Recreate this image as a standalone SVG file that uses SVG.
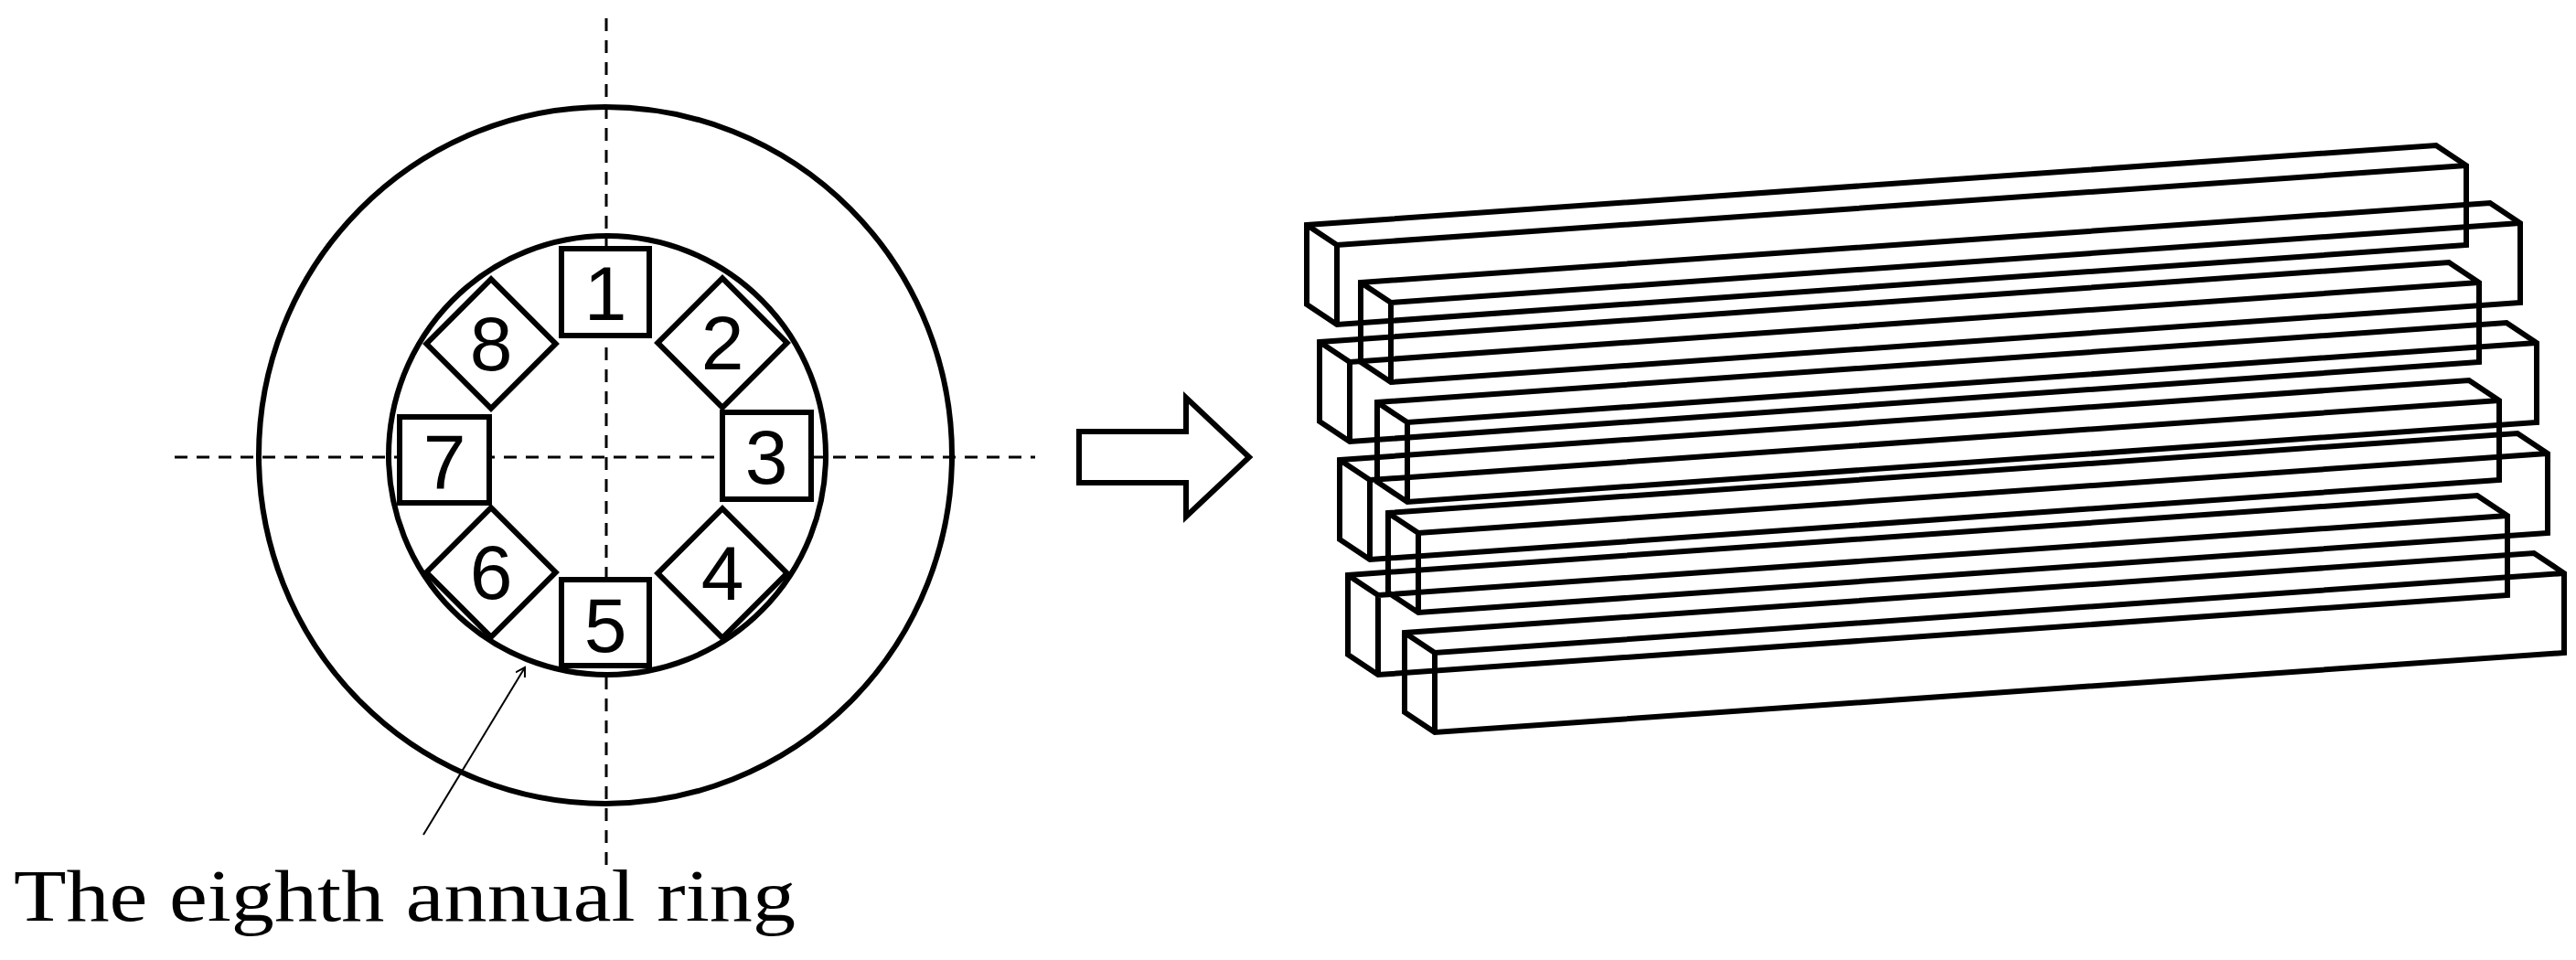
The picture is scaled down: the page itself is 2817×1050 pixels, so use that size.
<svg xmlns="http://www.w3.org/2000/svg" xmlns:xlink="http://www.w3.org/1999/xlink" width="2817" height="1050" viewBox="0 0 2817 1050">
<style>
.s{fill:none;stroke:#000;stroke-width:6}
.w{fill:#fff;stroke:#000;stroke-width:6;stroke-linejoin:miter}
.d{stroke:#000;stroke-width:3;stroke-dasharray:14 10}
.n{font-family:"Liberation Sans",Arial,sans-serif;font-size:84px;fill:#000;text-anchor:middle}
</style>
<defs>
<g id="beam">
<path class="s" d="M0,0 L1235,-87 L1268,-65 L1268,22 L33,109 L0,87 Z"/>
<path class="s" d="M0,0 L33,22 L1268,-65 M33,22 L33,109"/>
</g>
<marker id="ah" markerWidth="12" markerHeight="12" refX="10" refY="6" orient="auto" markerUnits="userSpaceOnUse"><path d="M0,0 L10,6 L0,12" fill="none" stroke="#000" stroke-width="2"/></marker>
</defs>
<rect width="2817" height="1050" fill="#fff"/>
<g id="log">
<ellipse class="s" cx="662" cy="498" rx="379" ry="381"/>
<ellipse class="s" cx="664" cy="498" rx="239" ry="240"/>
</g>
<g id="axes">
<line class="d" x1="663" y1="20" x2="663" y2="946"/>
<line class="d" x1="191" y1="500" x2="1132" y2="500"/>
</g>
<g id="s1"><rect class="w" x="614" y="272" width="96" height="95"/><text class="n" x="662" y="350">1</text></g>
<g id="s2"><rect class="w" x="740" y="325" width="100" height="100" transform="rotate(45 790 375)"/><text class="n" x="790" y="404">2</text></g>
<g id="s3"><rect class="w" x="790" y="451" width="97" height="95"/><text class="n" x="838" y="529">3</text></g>
<g id="s4"><rect class="w" x="740" y="577" width="100" height="100" transform="rotate(45 790 627)"/><text class="n" x="790" y="656">4</text></g>
<g id="s5"><rect class="w" x="614" y="634" width="96" height="94"/><text class="n" x="662" y="713">5</text></g>
<g id="s6"><rect class="w" x="487" y="576" width="100" height="100" transform="rotate(45 537 626)"/><text class="n" x="537" y="655">6</text></g>
<g id="s7"><rect class="w" x="437" y="456" width="98" height="94"/><text class="n" x="486" y="534">7</text></g>
<g id="s8"><rect class="w" x="487" y="326" width="100" height="100" transform="rotate(45 537 376)"/><text class="n" x="537" y="405">8</text></g>
<g id="connectors">
<line x1="463" y1="913" x2="574" y2="730" stroke="#000" stroke-width="2" marker-end="url(#ah)"/>
<path class="w" d="M1180,472 L1297,472 L1297,435 L1366,500 L1297,565 L1297,528 L1180,528 Z" stroke-width="4"/>
</g>
<g id="label"><text x="15" y="1007" font-family="'Liberation Serif',serif" font-size="80" textLength="855" lengthAdjust="spacingAndGlyphs">The eighth annual ring</text></g>
<g id="beams">
<use xlink:href="#beam" x="1429" y="246"/>
<use xlink:href="#beam" x="1488" y="309"/>
<use xlink:href="#beam" x="1443" y="374"/>
<use xlink:href="#beam" x="1506" y="440"/>
<use xlink:href="#beam" x="1465" y="503"/>
<use xlink:href="#beam" x="1518" y="561"/>
<use xlink:href="#beam" x="1474" y="629"/>
<use xlink:href="#beam" x="1536" y="692"/>
</g>
</svg>
